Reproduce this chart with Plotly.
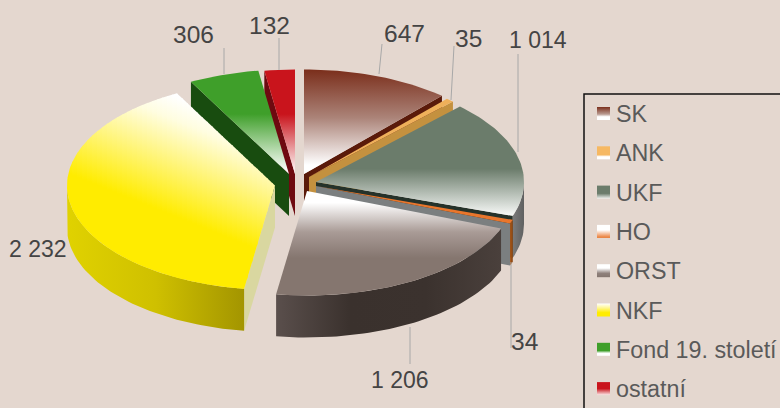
import math
import plotly.graph_objects as go

# ---------- data ----------
categories = ["SK", "ANK", "UKF", "HO", "ORST", "NKF", "Fond 19. století", "ostatní"]
values = [647, 35, 1014, 34, 1206, 2232, 306, 132]
value_labels = ["647", "35", "1 014", "34", "1 206", "2 232", "306", "132"]

# ---------- style / geometry ----------
BG = "#e4d7cf"
RX, RY, DEPTH = 208, 104.5, 42
apex_x = [304, 309, 316, 316, 307, 275, 289, 295]
apex_y = [174, 177, 182, 186, 191, 185.5, 174, 174]

top_fill = [
    (70, 165, [[0, "#7b2f1c"], [0.5, "#ab8378"], [1, "#ffffff"]]),
    (95, 175, [[0, "#efb05a"], [1, "#efb05a"]]),
    (105, 215, [[0, "#6b7c6b"], [0.58, "#6b7c6b"], [1, "#f6f8f6"]]),
    (186, 222, [[0, "#e9762c"], [1, "#e9762c"]]),
    (193, 258, [[0, "#ffffff"], [0.15, "#ffffff"], [0.6, "#a99b96"], [1, "#85766f"]]),
    None,
    (72, 172, [[0, "#3f9f2a"], [0.42, "#3f9f2a"], [1, "#ffffff"]]),
    (70, 168, [[0, "#c9141c"], [0.45, "#c9141c"], [1, "#fbe8e8"]]),
]
nkf_stops = [[0, "#ffffff"], [0.2, "#fffde0"], [0.5, "#fff68c"], [1, "#ffec00"]]
rim_fill = [
    ["#5a1a0a", "#5a1a0a"], ["#b27a30", "#b27a30"],
    ["#7a7a7a", "#5f6060"], ["#a8581a", "#8a4510"],
    ["#5a4f4c", "#3a312d", "#3b322e", "#4a403c"],
    ["#e0d200", "#cfc000", "#a39500"],
    ["#1a4d10", "#1a4d10"], ["#6e0a10", "#6e0a10"],
]
start_wall = [None, None, None, None, None, "#d9d7a0", "#184c0f", "#6e0a10"]
end_wall = ["#5a1a0a", "#c4913f", "#25322a", "#7b7f80", None, None, None, None]
draw_order = [0, 1, 2, 3, 4, 7, 6, 5]

label_x = [404, 468, 538, 524, 400, 38, 193, 269]
label_y = [33, 38, 40, 341, 380, 249, 34, 25]
label_size = [24.5, 24.5, 23, 24.5, 23, 23, 24.5, 24.5]
leader_x0 = [379, 451, 518, 511, 410, None, 224, 279]
leader_y0 = [74, 100, 152, 262, 327, None, 74, 70]
leader_x1 = [382, 454, 518, 511, 410, None, 224, 279]
leader_y1 = [44, 46, 54, 348, 364, None, 48, 38]

legend_swatch = [
    [[0, "#7b2f1c"], [0.55, "#b99a90"], [0.75, "#ffffff"], [1, "#ffffff"]],
    [[0, "#f6b862"], [0.65, "#f6b862"], [0.8, "#ffffff"], [1, "#ffffff"]],
    [[0, "#6b7c6b"], [0.6, "#6b7c6b"], [1, "#eef1ee"]],
    [[0, "#ffffff"], [0.4, "#ffffff"], [1, "#e9762c"]],
    [[0, "#ffffff"], [0.3, "#ffffff"], [0.7, "#8f817c"], [1, "#85766f"]],
    [[0, "#ffffff"], [0.35, "#fff68c"], [0.7, "#ffec00"], [1, "#ffec00"]],
    [[0, "#3f9f2a"], [0.6, "#3f9f2a"], [0.8, "#ffffff"], [1, "#ffffff"]],
    [[0, "#c9141c"], [0.5, "#c9141c"], [1, "#fbe8e8"]],
]

FONT = "Liberation Sans"
fig = go.Figure()


def scale(cols):
    n = len(cols) - 1
    return [[i / n, c] for i, c in enumerate(cols)]


def poly(xs, ys, color=None, grad=None):
    kw = dict(fillcolor=color) if color else dict(fillgradient=grad)
    fig.add_trace(go.Scatter(x=xs, y=ys, mode="lines", fill="toself", line=dict(width=0),
                             hoverinfo="skip", showlegend=False, **kw))


def pt(i, deg, drop=0):
    t = math.radians(deg)
    return apex_x[i] + RX * math.sin(t), apex_y[i] - RY * math.cos(t) + drop


def arc(i, a, b, drop=0):
    n = max(2, int(abs(b - a) / 1.5))
    return [pt(i, a + (b - a) * k / n, drop) for k in range(n + 1)]


def clip_x(points, lo, hi):
    def cut(pts, inside, xb):
        out = []
        for k, p in enumerate(pts):
            q = pts[(k + 1) % len(pts)]
            if inside(p):
                out.append(p)
            if inside(p) != inside(q):
                s = (xb - p[0]) / (q[0] - p[0])
                out.append((xb, p[1] + s * (q[1] - p[1])))
        return out
    r = cut(points, lambda p: p[0] >= lo, lo)
    return cut(r, lambda p: p[0] <= hi, hi) if r else r


total = sum(values)
angles = [0]
for v in values:
    angles.append(angles[-1] + 360 * v / total)

for i in draw_order:
    a, b = angles[i], angles[i + 1]
    ax, ay = apex_x[i], apex_y[i]
    # cut faces
    if start_wall[i]:
        px, py = pt(i, a)
        poly([ax, px, px, ax], [ay, py, py + DEPTH, ay + DEPTH], start_wall[i])
    if end_wall[i]:
        px, py = pt(i, b)
        poly([ax, px, px, ax], [ay, py, py + DEPTH, ay + DEPTH], end_wall[i])
    # outer wall (front half of the rim only)
    lo, hi = max(a, 90), min(b, 270)
    if hi > lo:
        up = arc(i, lo, hi)
        dn = arc(i, hi, lo, DEPTH)
        xs = [p[0] for p in up + dn]
        ys = [p[1] for p in up + dn]
        poly(xs, ys, grad=dict(type="horizontal", start=min(xs), stop=max(xs), colorscale=scale(rim_fill[i])))
    # top
    wedge = [(ax, ay)] + arc(i, a, b)
    if top_fill[i]:
        s0, s1, cs = top_fill[i]
        poly([p[0] for p in wedge], [p[1] for p in wedge],
             grad=dict(type="vertical", start=s0, stop=s1, colorscale=cs))
    else:
        # diagonal shading: sheared vertical gradient over narrow columns
        x_min = min(p[0] for p in wedge)
        x_max = max(p[0] for p in wedge)
        x = x_min
        while x < x_max:
            piece = clip_x(wedge, x, min(x + 5, x_max) + 0.8)
            if len(piece) > 2:
                sh = 0.4 * (x - 170)
                poly([p[0] for p in piece], [p[1] for p in piece],
                     grad=dict(type="vertical", start=95 + sh, stop=215 + sh, colorscale=nkf_stops))
            x += 5

# leader lines
for x0, y0, x1, y1 in zip(leader_x0, leader_y0, leader_x1, leader_y1):
    if x0 is not None:
        fig.add_shape(type="line", x0=x0, y0=y0, x1=x1, y1=y1, xref="x", yref="y",
                      line=dict(color="#a8a8a8", width=1))

# value labels
for t, x, y, s in zip(value_labels, label_x, label_y, label_size):
    fig.add_annotation(x=x, y=y, xref="x", yref="y", text=t, showarrow=False,
                       font=dict(family=FONT, size=s, color="#444444"),
                       xanchor="center", yanchor="middle")

# legend
fig.add_shape(type="rect", x0=584, y0=94, x1=800, y1=430, xref="x", yref="y",
              line=dict(color="#111111", width=1.5), fillcolor="rgba(0,0,0,0)")
for k, (name, sw) in enumerate(zip(categories, legend_swatch)):
    yc = 113.5 + 39.3 * k
    poly([597, 610, 610, 597], [yc - 6.5, yc - 6.5, yc + 6.5, yc + 6.5],
         grad=dict(type="vertical", start=yc - 6.5, stop=yc + 6.5, colorscale=sw))
    fig.add_annotation(x=614, y=yc + 0.5, xref="x", yref="y", text=name, showarrow=False,
                       font=dict(family=FONT, size=23.3, color="#5a5a5a"),
                       xanchor="left", yanchor="middle")

fig.update_layout(
    width=780, height=408, autosize=False,
    margin=dict(l=0, r=0, t=0, b=0),
    paper_bgcolor=BG, plot_bgcolor=BG, showlegend=False,
    xaxis=dict(range=[0, 780], visible=False, fixedrange=True),
    yaxis=dict(range=[408, 0], visible=False, fixedrange=True),
)
fig.write_html("out.html", config=dict(displayModeBar=False),
               post_script="document.body.style.margin='0';document.body.style.overflow='hidden';")
